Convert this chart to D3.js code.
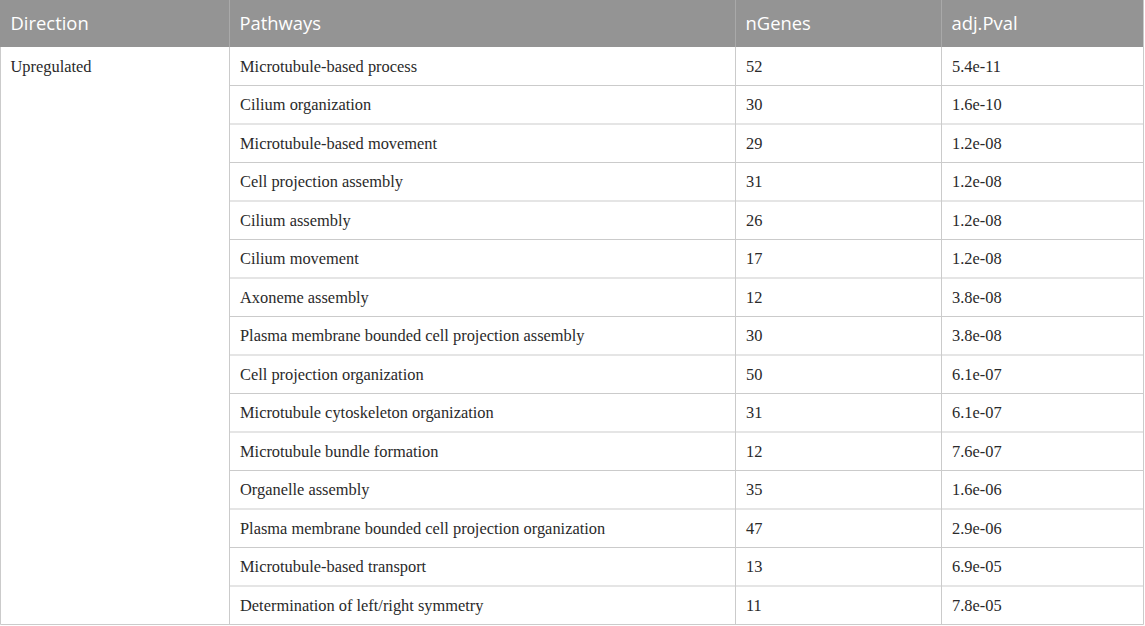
<!DOCTYPE html>
<html>
<head>
<meta charset="utf-8">
<script src="https://cdn.jsdelivr.net/npm/d3@7"></script>
<style>
  html, body { margin: 0; padding: 0; background: #fff; }
  svg { display: block; }
</style>
</head>
<body>
<svg id="chart"></svg>
<script>
const width = 1145;
const height = 626;

const headers = ["Direction", "Pathways", "nGenes", "adj.Pval"];
const direction = "Upregulated";
const pathways = [
  "Microtubule-based process",
  "Cilium organization",
  "Microtubule-based movement",
  "Cell projection assembly",
  "Cilium assembly",
  "Cilium movement",
  "Axoneme assembly",
  "Plasma membrane bounded cell projection assembly",
  "Cell projection organization",
  "Microtubule cytoskeleton organization",
  "Microtubule bundle formation",
  "Organelle assembly",
  "Plasma membrane bounded cell projection organization",
  "Microtubule-based transport",
  "Determination of left/right symmetry"
];
const nGenes = [52, 30, 29, 31, 26, 17, 12, 30, 50, 31, 12, 35, 47, 13, 11];
const adjPval = ["5.4e-11", "1.6e-10", "1.2e-08", "1.2e-08", "1.2e-08", "1.2e-08", "3.8e-08",
  "3.8e-08", "6.1e-07", "6.1e-07", "7.6e-07", "1.6e-06", "2.9e-06", "6.9e-05", "7.8e-05"];

const colEdges = [0.5, 229.5, 735.5, 941.5, 1143.5];
const headerH = 47;
const lineColor = "#cbcbcb";

const svg = d3.select("#chart")
  .attr("width", width)
  .attr("height", height)
  .attr("viewBox", [0, 0, width, height]);

const rows = pathways.map((p, i) => ({ pathway: p, n: nGenes[i], p: adjPval[i] }));

const y = d3.scaleBand()
  .domain(d3.range(rows.length))
  .range([headerH, 624.5]);

// header
svg.append("rect")
  .attr("x", 0).attr("y", 0)
  .attr("width", colEdges[4]).attr("height", headerH)
  .attr("fill", "#949494");

svg.selectAll(".head-sep")
  .data(colEdges.slice(1, 4))
  .join("line")
  .attr("x1", d => d).attr("x2", d => d)
  .attr("y1", 0).attr("y2", headerH)
  .attr("stroke", "#a9a9a9");

svg.selectAll(".head-text")
  .data(headers)
  .join("text")
  .attr("x", (d, i) => colEdges[i] + 10)
  .attr("y", headerH / 2)
  .attr("dy", "0.35em")
  .attr("fill", "#fff")
  .style("font-family", "'Open Sans', sans-serif")
  .style("font-size", "18.4px")
  .text(d => d);

// row separators (not under the merged Direction cell)
svg.selectAll(".row-sep")
  .data(d3.range(1, rows.length))
  .join("line")
  .attr("x1", colEdges[1]).attr("x2", colEdges[4])
  .attr("y1", i => y(i)).attr("y2", i => y(i))
  .attr("stroke", lineColor);

// column separators in body
svg.selectAll(".col-sep")
  .data(colEdges)
  .join("line")
  .attr("x1", d => d).attr("x2", d => d)
  .attr("y1", headerH).attr("y2", y.range()[1])
  .attr("stroke", lineColor);

// bottom border
svg.append("line")
  .attr("x1", colEdges[0]).attr("x2", colEdges[4])
  .attr("y1", y.range()[1]).attr("y2", y.range()[1])
  .attr("stroke", lineColor);

const bodyFont = "'Liberation Serif', 'Times New Roman', serif";
const bodySize = "16.4px";

svg.append("text")
  .attr("x", colEdges[0] + 10)
  .attr("y", y(0) + y.bandwidth() / 2)
  .attr("dy", "0.35em")
  .attr("fill", "#2a2a2a")
  .style("font-family", bodyFont)
  .style("font-size", bodySize)
  .text(direction);

const cells = rows.flatMap((r, i) => [
  { i, col: 1, text: r.pathway },
  { i, col: 2, text: String(r.n) },
  { i, col: 3, text: r.p }
]);

svg.selectAll(".cell")
  .data(cells)
  .join("text")
  .attr("x", d => colEdges[d.col] + 10.5)
  .attr("y", d => y(d.i) + y.bandwidth() / 2)
  .attr("dy", "0.35em")
  .attr("fill", "#2a2a2a")
  .style("font-family", bodyFont)
  .style("font-size", bodySize)
  .text(d => d.text);
</script>
</body>
</html>
